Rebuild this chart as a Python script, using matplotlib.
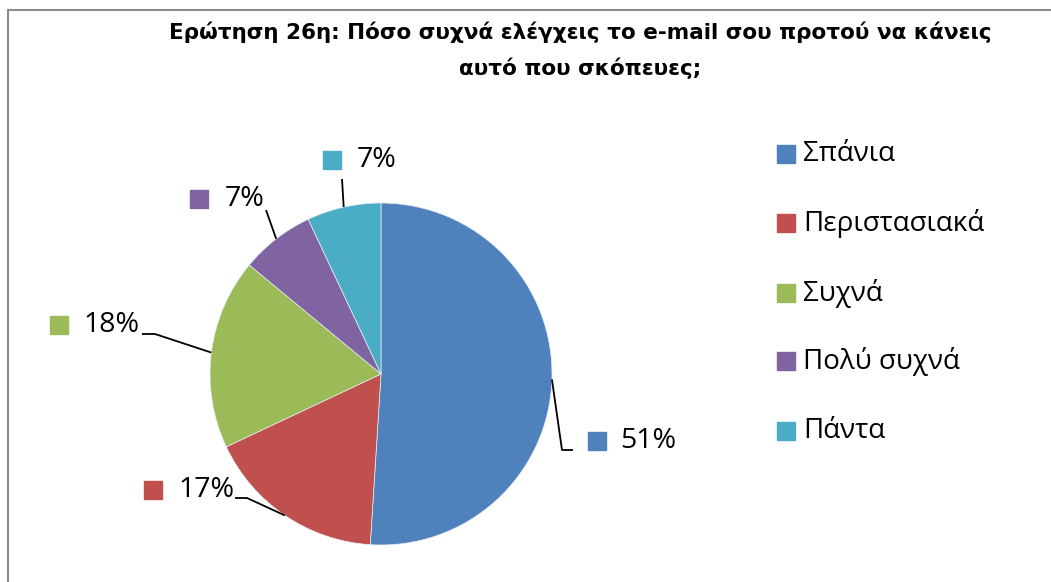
import numpy as np
import matplotlib
matplotlib.use("Agg")
import matplotlib.pyplot as plt
from matplotlib.patches import Rectangle

title = "Ερώτηση 26η: Πόσο συχνά ελέγχεις το e-mail σου προτού να κάνεις\nαυτό που σκόπευες;"
categories = ["Σπάνια", "Περιστασιακά", "Συχνά", "Πολύ συχνά", "Πάντα"]
values = [51, 17, 18, 7, 7]
colors = ["#4F81BD", "#C0504D", "#9BBB59", "#8064A2", "#4BACC6"]

W, H = 1051, 582
plt.rcParams['font.family'] = ['Open Sans', 'DejaVu Sans']
fig = plt.figure(figsize=(W / 100, H / 100), dpi=100)
ax = fig.add_axes([0, 0, 1, 1])

def py(y):
    return H - y

cx, cy, R = 381, py(374), 171
wedges, _ = ax.pie(values, colors=colors, startangle=90, counterclock=False,
                   center=(cx, cy), radius=R,
                   wedgeprops=dict(linewidth=0.5, edgecolor="#e8eef6"))
ax.set_xlim(0, W)
ax.set_ylim(0, H)
ax.set_aspect('equal')
ax.axis('off')

# label layout: (marker x, text left x, y) in pixels, and elbow points
label_pos = [(597, 620, 441), (153, 178, 490), (59, 83, 325), (199, 225, 199), (332, 357, 160)]
elbows = [[(562, 450), (573, 450)],
          [(247, 498), (235, 498)],
          [(155, 334), (142, 334)],
          [(266, 210)],
          [(342, 179)]]

total = sum(values)
for w, v, col, (mx, tx, ty), elb in zip(wedges, values, colors, label_pos, elbows):
    mid = np.deg2rad((w.theta1 + w.theta2) / 2)
    ax0 = cx + R * np.cos(mid)
    ay0 = cy + R * np.sin(mid)
    xs = [ax0] + [e[0] for e in elb]
    ys = [ay0] + [py(e[1]) for e in elb]
    ax.plot(xs, ys, color="black", lw=1.3, solid_capstyle='butt')
    ax.plot([mx], [py(ty)], marker='s', ms=13, color=col, mec=col, ls='none')
    ax.text(tx, py(ty), f"{round(v / total * 100)}%", fontsize=20.5, va='center', ha='left', color="black")

# legend
leg_y = [154, 223, 293, 361, 431]
for cat, col, ly in zip(categories, colors, leg_y):
    ax.plot([786], [py(ly)], marker='s', ms=13, color=col, mec=col, ls='none')
    ax.text(803, py(ly), cat, fontsize=20, va='center', ha='left', color="black")

ax.text(580, py(50), title, fontsize=15.5, fontweight='bold', ha='center', va='center',
        linespacing=1.85, color="black", family=['DejaVu Sans'])

# chart border
fig.patches.append(Rectangle((8 / W, -0.1), 1.2, (H - 10) / H + 0.1, transform=fig.transFigure,
                             fill=False, edgecolor="#8c8c8c", lw=1.5))

fig.savefig("out.png", dpi=100)
